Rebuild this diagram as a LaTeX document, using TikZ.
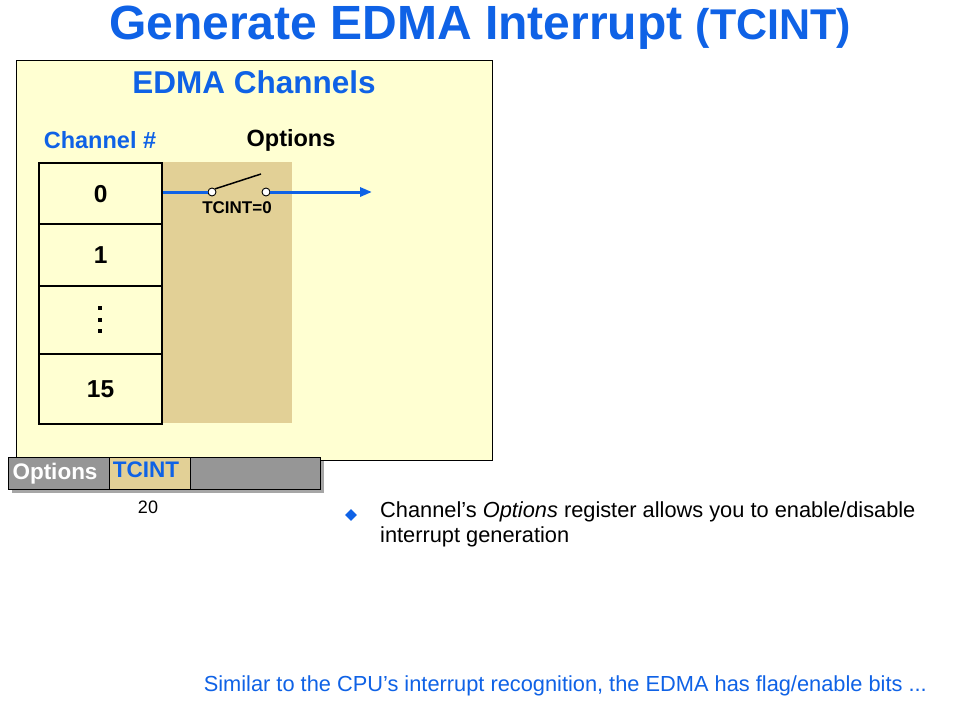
\documentclass[tikz,border=0pt]{standalone}
\usepackage{fontspec}
\setmainfont{Liberation Sans}
\usetikzlibrary{arrows.meta,shapes.geometric}
\definecolor{tblue}{HTML}{0F62E6}
\definecolor{pyellow}{HTML}{FFFFD2}
\definecolor{tan}{HTML}{E2D096}
\definecolor{rgray}{HTML}{969696}
\tikzset{
  cell/.style={draw=black, line width=2.2pt, minimum width=123pt, anchor=north west, inner sep=0pt},
  celltxt/.style={font=\fontsize{24.5}{26}\selectfont\bfseries},
  pin/.style={circle, draw=black, fill=white, line width=0.9pt, inner sep=0pt, minimum size=8pt},
  wire/.style={draw=tblue, line width=3pt},
  vdot/.style={fill=black, inner sep=0pt, minimum size=3.5pt},
}
\begin{document}
\begin{tikzpicture}[x=1pt,y=-1pt]
\useasboundingbox[fill=white] (0,0) rectangle (960,720);
% title
\node (title) at (480,28) {\fontsize{48}{52}\selectfont\bfseries\color{tblue}Generate EDMA Interrupt {\fontsize{43}{46}\selectfont(TCINT)}};
% yellow panel
\node (panel) [draw=black, line width=0.8pt, fill=pyellow, anchor=north west, minimum width=476pt, minimum height=400pt, inner sep=0pt] at (16,60) {};
\node (ptitle) at (254,82) {\fontsize{31.5}{34}\selectfont\bfseries\color{tblue}EDMA Channels};
\node (chh) at (100,140) {\fontsize{23.5}{26}\selectfont\bfseries\color{tblue}Channel \#};
\node (opth) at (291,140) {\fontsize{23.5}{26}\selectfont\bfseries Options};
% tan area
\node (tanbox) [fill=tan, anchor=north west, minimum width=131pt, minimum height=261pt, inner sep=0pt] at (161,162) {};
% cells
\node (c0) [cell, minimum height=61pt] at (38,162) {};
\node (c1) [cell, minimum height=62pt] at (38,223) {};
\node (c2) [cell, minimum height=68pt] at (38,285) {};
\node (c3) [cell, minimum height=70pt] at (38,353) {};
\node[celltxt] (t0) at (c0) {0};
\node[celltxt] (t1) at (c1) {1};
\node[vdot] (d1) at (100,308) {};
\node[vdot] (d2) at (100,320) {};
\node[vdot] (d3) at (100,331) {};
\node[celltxt] (t3) at (c3) {15};
% switch
\node (p1) [pin] at (212,192) {};
\node (p2) [pin] at (266,192) {};
\coordinate (arrowend) at (372,192);
\draw[wire] (c0.east |- p1) -- (p1.west);
\draw[wire, -{Triangle[length=12pt,width=9pt]}] (p2.east) -- (arrowend);
\coordinate (swend) at (261,174);
\draw[line width=1.5pt] (p1.north east) -- (swend);
\node (tcint0) at (237,208) {\fontsize{17}{19}\selectfont\bfseries TCINT=0};
% options register
\node (regshadow) [fill=black!35, anchor=north west, minimum width=312pt, minimum height=32pt, inner sep=0pt] at (12,461) {};
\node (reg) [draw=black, line width=1pt, fill=rgray, anchor=north west, minimum width=312pt, minimum height=32pt, inner sep=0pt] at (8,457) {};
\node (regtc) [draw=black, line width=0.8pt, fill=tan, anchor=north west, minimum width=81pt, minimum height=32pt, inner sep=0pt] at (109,457) {};
\node (regopt) at (55,474) {\fontsize{22.5}{24}\selectfont\bfseries\color{white}Options};
\node (regtctxt) at (146,470) {\fontsize{22.5}{24}\selectfont\bfseries\color{tblue}TCINT};
\node (bit20) at (148,507) {\fontsize{18}{20}\selectfont 20};
% bullet
\node (bullet) [diamond, fill=tblue, inner sep=0pt, minimum size=12pt] at (351,515) {};
\node (btext) [anchor=north west, align=left, inner sep=0pt, font=\fontsize{21.8}{25}\selectfont] at (380,501) {Channel’s \textit{Options} register allows you to enable/disable\\interrupt generation};
% footer
\node (footer) [anchor=east, inner sep=0pt] at (927,686) {\fontsize{21.8}{24}\selectfont\color{tblue}Similar to the CPU's interrupt recognition, the EDMA has flag/enable bits ...};
\end{tikzpicture}
\end{document}
